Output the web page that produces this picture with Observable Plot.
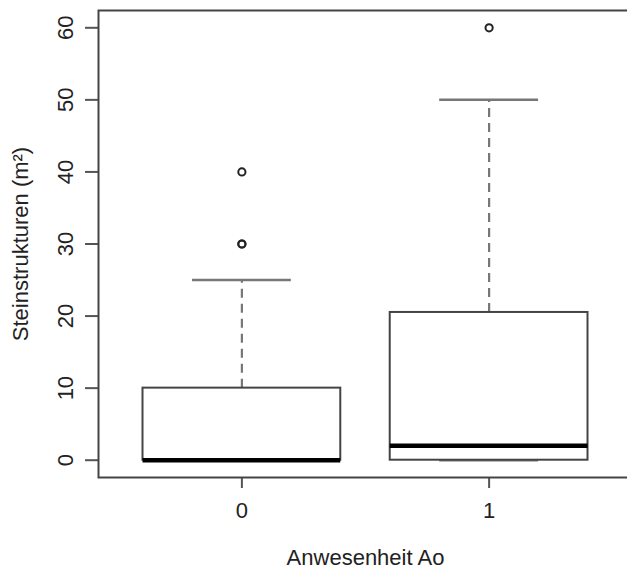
<!DOCTYPE html>
<html>
<head>
<meta charset="utf-8">
<script src="https://cdn.jsdelivr.net/npm/d3@7"></script>
<script src="https://cdn.jsdelivr.net/npm/@observablehq/plot@0.6"></script>
<style>
  html, body { margin: 0; padding: 0; background: #fff; overflow: hidden; }
  #chart { width: 632px; height: 572px; overflow: hidden; }
  #chart svg { max-width: none !important; }
</style>
</head>
<body>
<div id="chart"></div>
<script>
// Categories (group position on x axis and its label)
const groups = [0, 1];
const groupLabels = ["0", "1"];
// Box statistics per group
const whiskerLow = [0, 0];
const q1 = [0, 0];
const median = [0, 2];
const q3 = [10, 20.5];
const whiskerHigh = [25, 50];
// Outliers
const outlierGroup = [0, 0, 0, 1];
const outlierValue = [30, 30, 40, 60];
// Tick labels
const yTicks = [0, 10, 20, 30, 40, 50, 60];
const xTitle = "Anwesenheit Ao";
const yTitle = "Steinstrukturen (m²)";

const boxes = groups.map((g, i) => ({
  g, label: groupLabels[i], lo: whiskerLow[i], q1: q1[i], med: median[i], q3: q3[i], hi: whiskerHigh[i]
}));
const outliers = outlierGroup.map((g, i) => ({g, v: outlierValue[i]}));

const font = "'Liberation Sans', Arial, Helvetica, sans-serif";
const fs = 22;
const boxHalf = 0.4, capHalf = 0.2;

const chart = Plot.plot({
  width: 632,
  height: 572,
  marginLeft: 98,
  marginRight: 0,
  marginTop: 10,
  marginBottom: 95,
  style: {fontFamily: font, fontSize: fs + "px", background: "white", color: "#222", maxWidth: "none"},
  x: {domain: [-0.58, 1.58], axis: null},
  y: {domain: [-2.4, 62.4], axis: null},
  marks: [
    // axes ticks
    Plot.axisY({ticks: yTicks, tickSize: 13, tickFormat: () => "", label: null, stroke: "#555", strokeWidth: 2}),
    Plot.axisX({ticks: groups, tickSize: 11, tickFormat: () => "", label: null, stroke: "#555", strokeWidth: 2}),
    // y tick labels (rotated, R style)
    Plot.text(yTicks, {y: d => d, text: d => String(d), frameAnchor: "left", dx: -33, rotate: -90,
      textAnchor: "middle", lineAnchor: "middle", fontSize: fs, fill: "#222"}),
    // x tick labels
    Plot.text(boxes, {x: "g", text: "label", frameAnchor: "bottom", dy: 33, lineAnchor: "middle", fontSize: fs, fill: "#222"}),
    // axis titles
    Plot.text([yTitle], {text: d => d, frameAnchor: "left", dx: -78, rotate: -90, textAnchor: "middle", lineAnchor: "middle", fontSize: fs, fill: "#222"}),
    Plot.text([xTitle], {text: d => d, frameAnchor: "bottom", dy: 80, textAnchor: "middle", lineAnchor: "middle", fontSize: fs, fill: "#222"}),
    // whiskers (dashed)
    Plot.ruleX(boxes, {x: "g", y1: "q3", y2: "hi", stroke: "#777", strokeWidth: 2.2, strokeDasharray: "9,6"}),
    Plot.ruleX(boxes, {x: "g", y1: "lo", y2: "q1", stroke: "#777", strokeWidth: 2.2, strokeDasharray: "9,6"}),
    // whisker caps
    Plot.ruleY(boxes, {y: "hi", x1: d => d.g - capHalf, x2: d => d.g + capHalf, stroke: "#777", strokeWidth: 2.5}),
    Plot.ruleY(boxes, {y: "lo", x1: d => d.g - capHalf, x2: d => d.g + capHalf, stroke: "#777", strokeWidth: 2.5}),
    // boxes
    Plot.rect(boxes, {x1: d => d.g - boxHalf, x2: d => d.g + boxHalf, y1: "q1", y2: "q3",
      fill: "white", stroke: "#444", strokeWidth: 2}),
    // medians
    Plot.ruleY(boxes, {y: "med", x1: d => d.g - boxHalf, x2: d => d.g + boxHalf, stroke: "black", strokeWidth: 4.5}),
    // outliers
    Plot.dot(outliers, {x: "g", y: "v", r: 3.6, stroke: "#222", strokeWidth: 2, fill: "none"}),
    // frame
    Plot.frame({stroke: "#444", strokeWidth: 2})
  ]
});
document.getElementById("chart").append(chart);
</script>
</body>
</html>
